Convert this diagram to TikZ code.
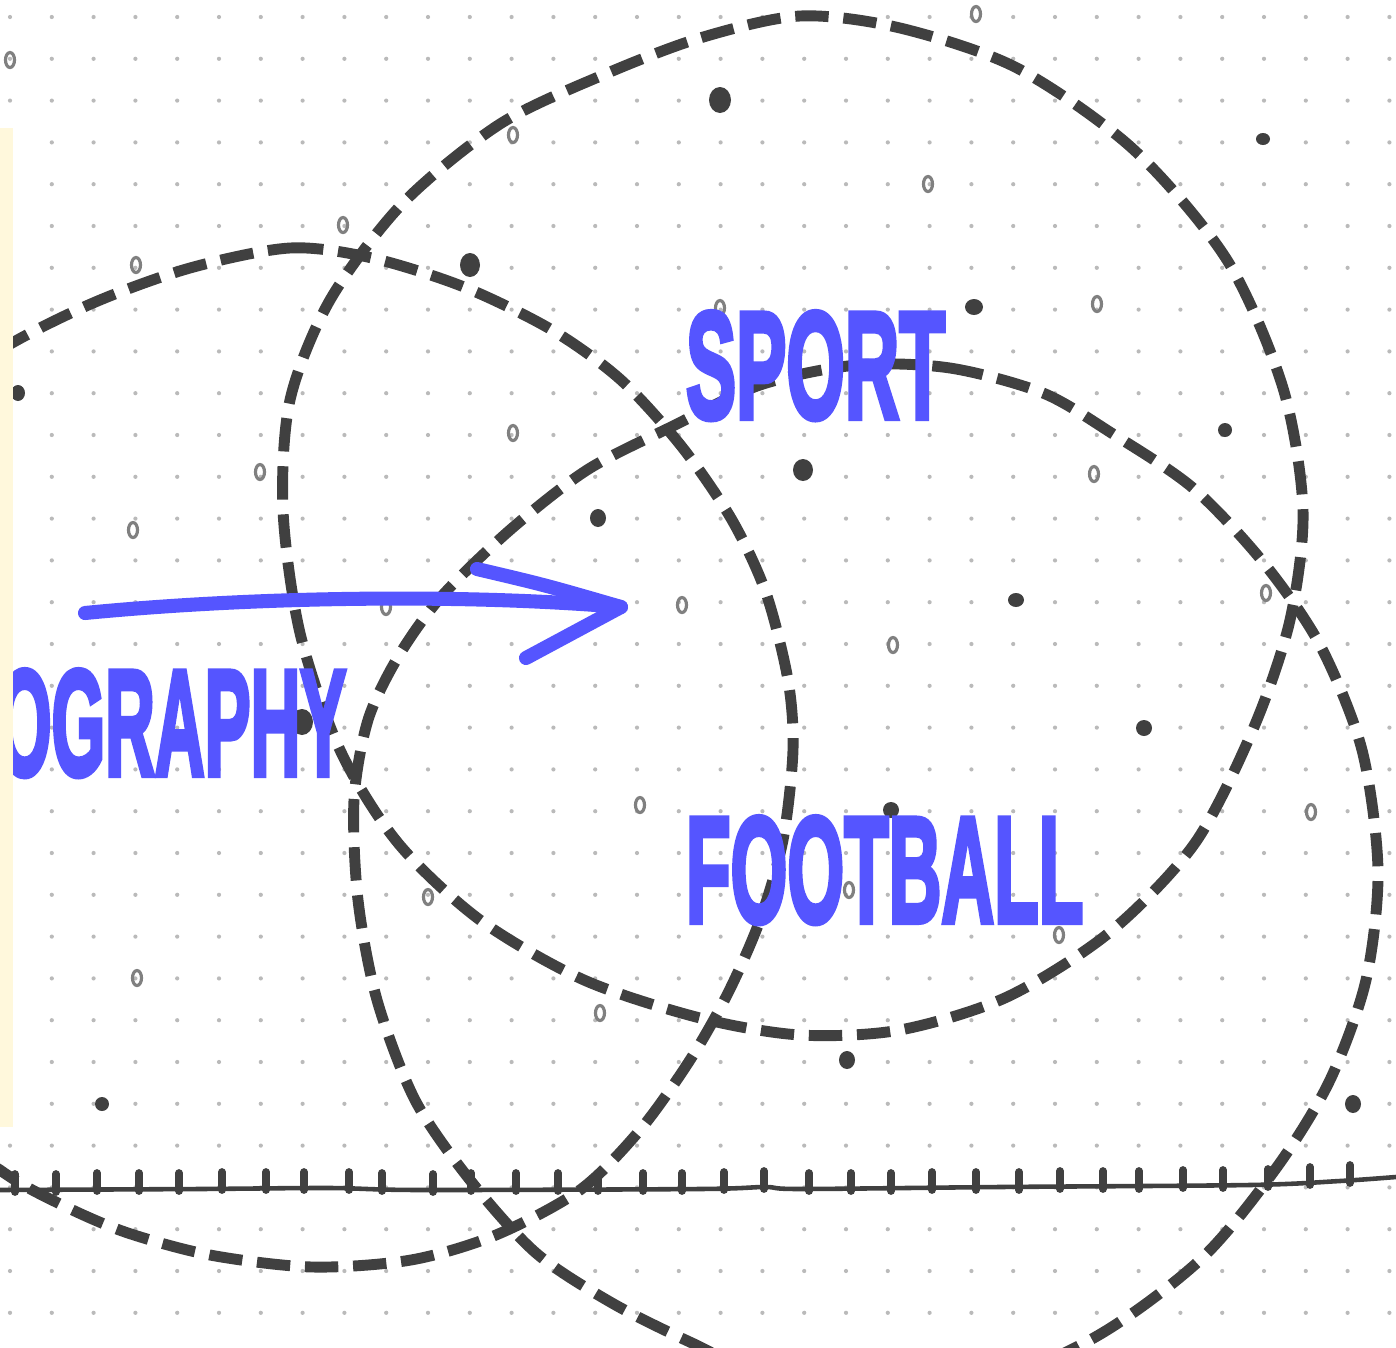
\documentclass[tikz,border=0pt]{standalone}
\usepackage{fontspec}
\usepackage{graphicx}
\newfontfamily\wordfont{Liberation Sans}[BoldFeatures={FakeBold=4}]
\definecolor{ink}{HTML}{404040}
\definecolor{marker}{HTML}{5555FF}
\definecolor{paper}{HTML}{FFF8DC}
\definecolor{griddot}{HTML}{BABABA}

\begin{document}
\begin{tikzpicture}[x=0.01cm, y=-0.01cm,
  loopline/.style={draw=ink, line width=3.1pt, dash pattern=on 9.5pt off 4.2pt},
  inkdot/.style={fill=ink},
  ringmark/.style={draw=black!50, line width=0.9pt},
  word/.style={inner sep=0pt, outer sep=0pt, text=marker, font=\wordfont\bfseries, anchor=base west},
  pen/.style={draw=marker, line width=4pt, line cap=round, line join=round}]
\useasboundingbox (0,0) rectangle (1396,1348);
\clip (0,0) rectangle (1396,1348);
\fill[white] (0,0) rectangle (1396,1348);
% --- dotted paper ---
\foreach \i in {0,...,33}
  \foreach \j in {0,...,31}
    \fill[griddot] ({10+41.8*\i},{17+41.8*\j}) circle (0.021cm);
% --- ink specks ---
\foreach \px/\py/\rx/\ry in {720/100/11/13, 1263/139/7/6, 470/265/10/12, 974/307/9/8,
    18/393/7/8, 803/470/10/11, 598/518/8/9, 1225/430/7/7, 1016/600/8/7, 302/722/11/13,
    1144/728/8/8, 891/810/8/8, 847/1060/8/9, 102/1104/7/7, 1353/1104/8/9}
  \fill[inkdot] (\px,\py) ellipse [x radius=\rx*0.01cm, y radius=\ry*0.01cm];
\foreach \px/\py in {10/60, 513/135, 928/184, 343/225, 136/265, 1097/304, 720/308,
    513/433, 260/472, 1094/474, 133/530, 682/605, 386/607, 1266/593, 893/645,
    640/805, 1311/812, 428/897, 849/890, 1059/935, 137/978, 600/1013, 976/14}
  \draw[ringmark] (\px,\py) ellipse [x radius=0.045cm, y radius=0.075cm];
% --- the three loops ---
\draw[loopline] plot[smooth cycle] coordinates {(800,16) (900,28) (1017,68) (1133,149)
  (1227,260) (1283,388) (1303,510) (1290,620) (1254,727) (1195,843) (1110,932)
  (1007,997) (900,1030) (800,1035) (700,1018) (584,980) (480,920) (398,843)
  (340,750) (300,633) (283,510) (290,400) (330,300) (403,203) (500,124) (603,75) (700,38)};
\draw[loopline] plot[smooth cycle] coordinates {(190,268) (290,248) (372,258) (464,287)
  (552,330) (621,380) (682,447) (732,520) (766,593) (788,680) (793,750) (783,840)
  (760,920) (728,993) (690,1060) (640,1130) (580,1190) (496,1235) (411,1260)
  (312,1267) (210,1255) (125,1232) (58,1203) (0,1170) (-100,1090) (-170,760)
  (-100,420) (0,350) (93,303)};
\draw[loopline] plot[smooth cycle] coordinates {(857,365) (950,368) (1043,393) (1113,434)
  (1193,488) (1263,562) (1320,645) (1362,750) (1378,870) (1366,980) (1330,1080)
  (1277,1167) (1200,1260) (1090,1340) (950,1395) (800,1390) (692,1343) (612,1303)
  (536,1253) (470,1180) (415,1100) (377,1000) (358,900) (354,800) (368,720)
  (398,657) (441,597) (510,530) (587,470) (671,427) (760,385)};
% --- ruler ---
\draw[ink, line width=1.3pt] plot[smooth] coordinates {(0,1190) (200,1189) (330,1188)
  (420,1190) (700,1189) (765,1187) (800,1189) (1000,1187) (1250,1185) (1340,1181) (1396,1177)};
\foreach \tx/\ty in {15/1190, 56/1190, 97/1189, 139/1189, 179/1189, 222/1188, 266/1188,
    304/1188, 349/1188, 382/1189, 433/1190, 471/1189, 516/1189, 558/1189, 598/1189,
    643/1189, 682/1189, 724/1188, 764/1187, 809/1189, 851/1189, 891/1189, 932/1188,
    976/1188, 1019/1188, 1060/1187, 1103/1187, 1139/1187, 1183/1186, 1223/1186,
    1268/1185, 1310/1183, 1350/1181}
  \draw[ink, line width=2.2pt, line cap=round] (\tx,{\ty+2}) -- (\tx,{\ty-16});
% --- words ---
\node[word] (topic) at (-2,775) {\resizebox{3.48cm}{1.05cm}{OGRAPHY}};
\node[word] (sport) at (686,418) {\resizebox{2.59cm}{1.06cm}{SPORT}};
\node[word] (football) at (686,922) {\resizebox{3.97cm}{1.05cm}{FOOTBALL}};
% --- hand-drawn arrow ---
\coordinate (tail) at (85,613);
\coordinate (tip) at (621,607);
\draw[pen] (tail) .. controls (260,596) and (470,594) .. (tip);
\draw[pen] (477,569) .. controls (545,585) .. (tip) -- (526,658);
% --- sticky edge ---
\fill[paper] (0,128) rectangle (13,1127);
\end{tikzpicture}
\end{document}
